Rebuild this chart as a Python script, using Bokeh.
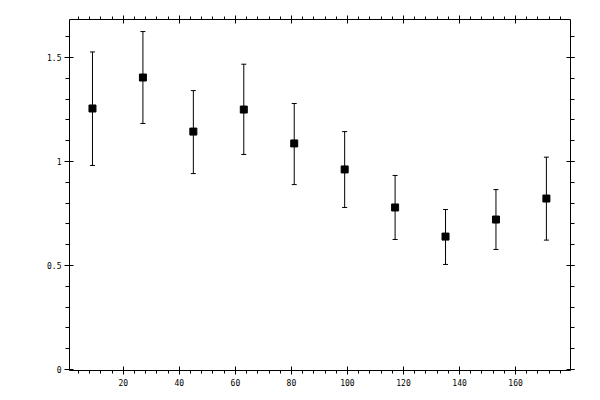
from bokeh.plotting import figure
from bokeh.models import ColumnDataSource, Range1d, LinearAxis, SingleIntervalTicker, \
						 PrintfTickFormatter, Whisker, TeeHead, CustomJSTickFormatter
from bokeh.embed import file_html
from bokeh.resources import INLINE

x_vals = [9, 27, 45, 63, 81, 99, 117, 135, 153, 171]
y_vals = [1.255, 1.404, 1.144, 1.250, 1.087, 0.962, 0.779, 0.639, 0.721, 0.822]
y_low = [0.981, 1.183, 0.942, 1.034, 0.889, 0.779, 0.625, 0.505, 0.577, 0.622]
y_high = [1.527, 1.625, 1.341, 1.468, 1.279, 1.144, 0.933, 0.769, 0.865, 1.021]

FONT = "DejaVu Sans Mono"

src = ColumnDataSource(dict(x=x_vals, y=y_vals, lo=y_low, hi=y_high))

p = figure(frame_width=501, frame_height=351,
		   min_border_left=69, min_border_right=30, min_border_top=19, min_border_bottom=30,
		   x_range=Range1d(0.8, 179.6), y_range=Range1d(-0.005, 1.683),
		   x_axis_type=None, y_axis_type=None,
		   output_backend="svg", toolbar_location=None, tools="")
p.outline_line_color = None
p.background_fill_color = "white"
p.border_fill_color = "white"


def make_axis(interval, labels):
	ax = LinearAxis(ticker=SingleIntervalTicker(interval=interval, num_minor_ticks=5))
	ax.axis_line_color = "black"
	ax.axis_line_width = 1
	ax.major_tick_line_color = "black"
	ax.minor_tick_line_color = "black"
	ax.major_tick_in = 4
	ax.major_tick_out = 4
	ax.minor_tick_in = 0
	ax.minor_tick_out = 3
	ax.major_label_text_font = FONT
	ax.major_label_text_font_size = "8px"
	ax.major_label_text_color = "black"
	if not labels:
		ax.formatter = CustomJSTickFormatter(code="return ''")
		ax.major_label_text_font_size = "0px"
		ax.major_label_standoff = 0
	return ax


xb = make_axis(20, True)
xb.major_label_standoff = 4
p.add_layout(xb, "below")
xt = make_axis(20, False)
p.add_layout(xt, "above")

yl = make_axis(0.5, True)
yl.formatter = PrintfTickFormatter(format="%g")
yl.major_tick_out = 5
yl.minor_tick_out = 4
yl.major_label_standoff = 3
p.add_layout(yl, "left")
yr = make_axis(0.5, False)
yr.minor_tick_out = 4
p.add_layout(yr, "right")

p.add_layout(Whisker(base="x", upper="hi", lower="lo", source=src,
					 line_color="black", line_width=1,
					 upper_head=TeeHead(size=5, line_color="black", line_width=1),
					 lower_head=TeeHead(size=5, line_color="black", line_width=1)))
p.scatter(x="x", y="y", source=src, marker="square", size=7,
		  fill_color="black", line_color="black")

open("out.html", "w").write(file_html(p, INLINE))
